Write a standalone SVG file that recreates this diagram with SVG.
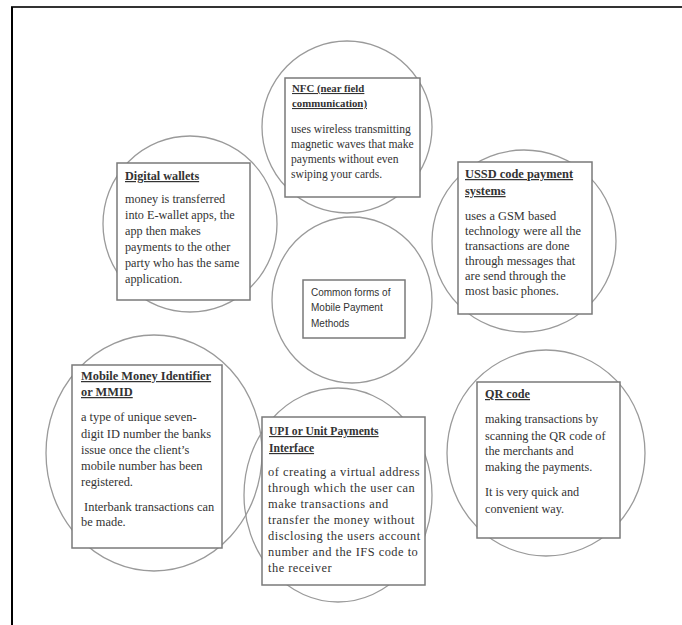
<svg xmlns="http://www.w3.org/2000/svg" width="682" height="625" viewBox="0 0 682 625">
<style>
.circ{fill:none;stroke:#9a9a9a;stroke-width:1.3}
.box{fill:#fff;stroke:#7a7a7a;stroke-width:1.5}
.t{font-family:"Liberation Serif","Times New Roman",serif;font-size:12px;fill:#333}
.h{font-weight:bold;text-decoration:underline}
.c{font-family:"Liberation Sans",Arial,sans-serif;font-size:10px;fill:#333}
</style>
<rect width="682" height="625" fill="#fff"/>
<g id="frame">
<line x1="11" y1="7" x2="682" y2="7" stroke="#333" stroke-width="2"/>
<line x1="12" y1="7" x2="12" y2="625" stroke="#000" stroke-width="2"/>
</g>
<g id="circles" class="connectors">
<ellipse class="circ" cx="347" cy="127" rx="85" ry="86"/>
<ellipse class="circ" cx="190" cy="224" rx="87" ry="88"/>
<ellipse class="circ" cx="524" cy="241" rx="92" ry="91"/>
<ellipse class="circ" cx="352" cy="300" rx="80" ry="83"/>
<ellipse class="circ" cx="154" cy="453" rx="108" ry="118"/>
<ellipse class="circ" cx="338" cy="495" rx="94" ry="107"/>
<ellipse class="circ" cx="546" cy="453" rx="99" ry="103"/>
</g>
<g id="nfc">
<rect class="box" x="285" y="78" width="135" height="119"/>
<text class="t" style="font-size:10.8px"><tspan class="h" x="292" y="92">NFC (near field</tspan><tspan class="h" x="292" y="107">communication)</tspan></text>
<text class="t" style="font-size:11.6px"><tspan x="291" y="133">uses wireless transmitting</tspan><tspan x="291" y="148">magnetic waves that make</tspan><tspan x="291" y="163">payments without even</tspan><tspan x="291" y="178">swiping your cards.</tspan></text>
</g>
<g id="digital">
<rect class="box" x="117" y="163" width="133" height="137"/>
<text class="t" style="font-size:12.2px"><tspan class="h" x="125" y="180">Digital wallets</tspan><tspan x="125" y="203">money is transferred</tspan><tspan x="125" y="219">into E-wallet apps, the</tspan><tspan x="125" y="235">app then makes</tspan><tspan x="125" y="251">payments to the other</tspan><tspan x="125" y="267">party who has the same</tspan><tspan x="125" y="283">application.</tspan></text>
</g>
<g id="ussd">
<rect class="box" x="458" y="162" width="134" height="152"/>
<text class="t" style="font-size:12.4px"><tspan class="h" x="465" y="178">USSD code payment</tspan><tspan class="h" x="465" y="195">systems</tspan><tspan x="465" y="220">uses a GSM based</tspan><tspan x="465" y="235">technology were all the</tspan><tspan x="465" y="250">transactions are done</tspan><tspan x="465" y="265">through messages that</tspan><tspan x="465" y="280">are send through the</tspan><tspan x="465" y="295">most basic phones.</tspan></text>
</g>
<g id="center">
<rect class="box" x="303" y="280" width="102" height="58"/>
<text class="c"><tspan x="311" y="296">Common forms of</tspan><tspan x="311" y="311">Mobile Payment</tspan><tspan x="311" y="327">Methods</tspan></text>
</g>
<g id="mmid">
<rect class="box" x="72" y="365" width="150" height="183"/>
<text class="t" style="font-size:12.4px"><tspan class="h" x="81" y="380">Mobile Money Identifier</tspan><tspan class="h" x="81" y="396">or MMID</tspan><tspan x="81" y="421">a type of unique seven-</tspan><tspan x="81" y="438">digit ID number the banks</tspan><tspan x="81" y="454">issue once the client’s</tspan><tspan x="81" y="470">mobile number has been</tspan><tspan x="81" y="486">registered.</tspan><tspan x="81" y="511"> Interbank transactions can</tspan><tspan x="81" y="526">be made.</tspan></text>
</g>
<g id="upi">
<rect class="box" x="262" y="417" width="163" height="168"/>
<text class="t" style="font-size:11.6px"><tspan class="h" x="269" y="435">UPI or Unit Payments</tspan><tspan class="h" x="269" y="452">Interface</tspan></text>
<text class="t" style="font-size:12.4px;letter-spacing:0.5px"><tspan x="268" y="476">of creating a virtual address</tspan><tspan x="268" y="492">through which the user can</tspan><tspan x="268" y="508">make transactions and</tspan><tspan x="268" y="524">transfer the money without</tspan><tspan x="268" y="540">disclosing the users account</tspan><tspan x="268" y="556">number and the IFS code to</tspan><tspan x="268" y="572">the receiver</tspan></text>
</g>
<g id="qr">
<rect class="box" x="477" y="382" width="143" height="156"/>
<text class="t" style="font-size:12.2px"><tspan class="h" x="485" y="398">QR code</tspan><tspan x="485" y="423">making transactions by</tspan><tspan x="485" y="440">scanning the QR code of</tspan><tspan x="485" y="455">the merchants and</tspan><tspan x="485" y="471">making the payments.</tspan><tspan x="485" y="496">It is very quick and</tspan><tspan x="485" y="513">convenient way.</tspan></text>
</g>
</svg>
